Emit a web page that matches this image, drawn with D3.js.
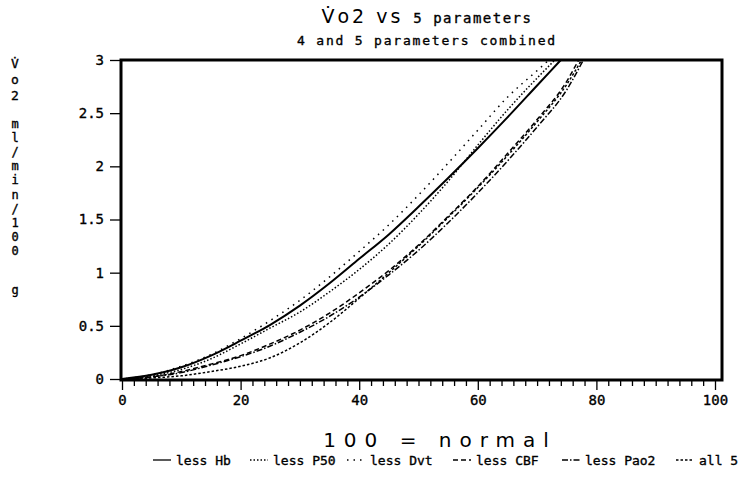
<!DOCTYPE html>
<html>
<head>
<meta charset="utf-8">
<script src="https://cdn.jsdelivr.net/npm/d3@7"></script>
<style>
  body { margin: 0; background: #fff; }
  text { font-family: 'DejaVu Sans Mono', monospace; fill: #000; stroke: #000; stroke-width: 0.35px; }
</style>
</head>
<body>
<div class="chart"></div>
<script>
// x = percent of normal, y = Vo2 ml/min/100 g
const lessHb = [[0, 0], [5, 0.04], [10, 0.11], [15, 0.22], [20, 0.36], [25, 0.51], [30, 0.69], [35, 0.9], [40, 1.13], [45, 1.36], [50, 1.62], [55, 1.89], [60, 2.17], [65, 2.46], [70, 2.76], [74, 3.0]];
const lessP50 = [[0, 0], [5, 0.03], [10, 0.09], [15, 0.19], [20, 0.33], [25, 0.48], [30, 0.63], [35, 0.82], [40, 1.03], [45, 1.27], [50, 1.55], [55, 1.86], [60, 2.2], [65, 2.53], [70, 2.83], [73, 3.0]];
const lessDvt = [[0, 0], [5, 0.04], [10, 0.12], [15, 0.23], [20, 0.38], [25, 0.55], [30, 0.74], [35, 0.96], [40, 1.2], [45, 1.45], [50, 1.73], [55, 2.03], [60, 2.34], [65, 2.65], [70, 2.9], [72, 3.0]];
const lessCBF = [[0, 0], [5, 0.02], [10, 0.07], [15, 0.14], [20, 0.22], [25, 0.33], [30, 0.46], [35, 0.62], [40, 0.81], [45, 1.02], [50, 1.26], [55, 1.53], [60, 1.81], [65, 2.12], [70, 2.44], [75, 2.8], [77, 3.0]];
const lessPao2 = [[0, 0], [5, 0.02], [10, 0.06], [15, 0.13], [20, 0.21], [25, 0.31], [30, 0.44], [35, 0.59], [40, 0.77], [45, 0.98], [50, 1.21], [55, 1.47], [60, 1.75], [65, 2.05], [70, 2.37], [75, 2.72], [77.8, 3.0]];
const all5 = [[0, 0], [5, 0.01], [10, 0.03], [15, 0.07], [20, 0.12], [25, 0.2], [30, 0.34], [35, 0.53], [40, 0.76], [45, 1.0], [50, 1.25], [55, 1.52], [60, 1.8], [65, 2.1], [70, 2.42], [75, 2.77], [77.5, 3.0]];

const seriesNames = ['less Hb', 'less P50', 'less Dvt', 'less CBF', 'less Pao2', 'all 5'];
const seriesData = [lessHb, lessP50, lessDvt, lessCBF, lessPao2, all5];
const dashes = [null, '1.5,2', '1.5,5', '5,3', '6,2,1.5,2', '2.5,2'];

const xTicks = [0, 20, 40, 60, 80, 100];
const yTicks = [0, 0.5, 1, 1.5, 2, 2.5, 3];
const yLabelChars = ['V\u0307', 'o', '2', 'm', 'l', '/', 'm', 'i', 'n', '/', '1', '0', '0', 'g'];
const yLabelPos = [68, 84, 100, 128, 142, 156, 170, 184, 199, 213, 227, 241, 255, 294];

const width = 750;
const height = 479;

const svg = d3.select('.chart')
    .append('svg')
    .attr('width', width)
    .attr('height', height);

const x = d3.scaleLinear().domain([0, 100]).range([122, 715]);
const y = d3.scaleLinear().domain([0, 3]).range([379, 60]);

// frame
svg.append('rect')
    .attr('x', 121)
    .attr('y', 60)
    .attr('width', 601)
    .attr('height', 320)
    .attr('fill', 'none')
    .attr('stroke', '#000')
    .attr('stroke-width', 3);

// x axis ticks, minor every 2
const xAxis = d3.axisBottom(x)
    .tickValues(d3.range(0, 101, 2))
    .tickSize(5)
    .tickFormat(d => xTicks.includes(d) ? d : '');

const gx = svg.append('g')
    .attr('transform', 'translate(0,381)')
    .call(xAxis);
gx.select('.domain').remove();
gx.selectAll('.tick line')
    .attr('stroke-width', 1.3)
    .attr('y2', d => xTicks.includes(d) ? 9 : 5);
gx.selectAll('.tick text')
    .attr('y', 14)
    .style('font-size', '14px')
    .style('font-family', 'DejaVu Sans Mono');

// y axis ticks
const yAxis = d3.axisLeft(y)
    .tickValues(yTicks)
    .tickSize(10)
    .tickFormat(d => d);

const gy = svg.append('g')
    .attr('transform', 'translate(120,0)')
    .call(yAxis);
gy.select('.domain').remove();
gy.selectAll('.tick line').attr('stroke-width', 1.3);
gy.selectAll('.tick text')
    .attr('x', -16)
    .style('font-size', '14px')
    .style('font-family', 'DejaVu Sans Mono');

// curves
const line = d3.line()
    .x(d => x(d[0]))
    .y(d => y(d[1]))
    .curve(d3.curveMonotoneX);

svg.append('g')
    .selectAll('path')
    .data(seriesData)
    .enter()
    .append('path')
    .attr('d', line)
    .attr('fill', 'none')
    .attr('stroke', '#000')
    .attr('stroke-width', (d, i) => i === 0 ? 2 : 1.5)
    .attr('stroke-dasharray', (d, i) => dashes[i]);

// titles
const title = svg.append('text')
    .attr('x', 427)
    .attr('y', 23)
    .attr('text-anchor', 'middle');
title.append('tspan')
    .text('V\u0307o2  vs')
    .style('font-family', 'DejaVu Sans')
    .style('font-size', '19px')
    .style('letter-spacing', '3px')
    .style('stroke-width', '0px');
title.append('tspan')
    .text(' 5 parameters')
    .style('font-size', '14px')
    .style('letter-spacing', '1.5px');

svg.append('text')
    .attr('x', 427)
    .attr('y', 45)
    .attr('text-anchor', 'middle')
    .style('font-size', '13px')
    .style('letter-spacing', '1.8px')
    .text('4 and 5 parameters combined');

svg.append('text')
    .attr('x', 440)
    .attr('y', 447)
    .attr('text-anchor', 'middle')
    .style('font-family', 'DejaVu Sans')
    .style('font-size', '20px')
    .style('letter-spacing', '8px')
    .style('stroke-width', '0px')
    .text('100 = normal');

// vertical y label
svg.append('g')
    .selectAll('text')
    .data(yLabelChars)
    .enter()
    .append('text')
    .attr('x', 15)
    .attr('y', (d, i) => yLabelPos[i])
    .attr('text-anchor', 'middle')
    .style('font-size', (d, i) => i < 3 ? '13px' : '12px')
    .text(d => d);

// legend
const legendX = [153, 250, 347, 453, 562, 676];
const legend = svg.append('g')
    .selectAll('g')
    .data(seriesNames)
    .enter()
    .append('g')
    .attr('transform', (d, i) => `translate(${legendX[i]},460)`);

legend.append('line')
    .attr('x1', 0)
    .attr('x2', 18)
    .attr('y1', 0)
    .attr('y2', 0)
    .attr('stroke', '#000')
    .attr('stroke-width', 1.3)
    .attr('stroke-dasharray', (d, i) => dashes[i]);

legend.append('text')
    .attr('x', 23)
    .attr('y', 4.5)
    .style('font-size', '13px')
    .text(d => d);
</script>
</body>
</html>
